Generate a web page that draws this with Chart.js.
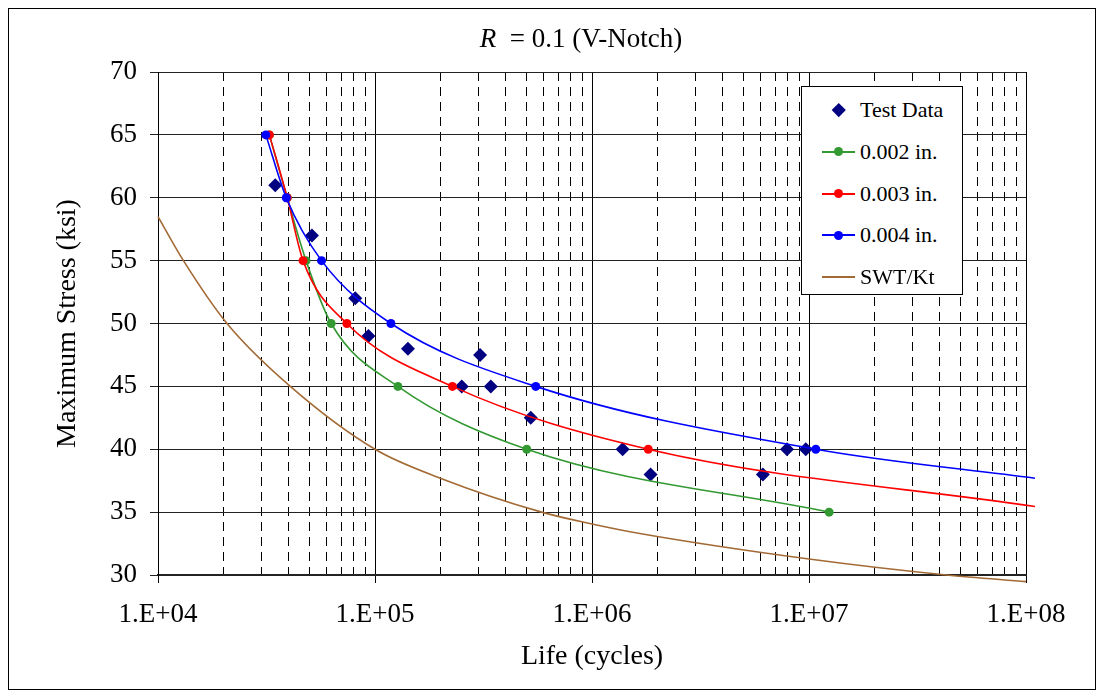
<!DOCTYPE html>
<html>
<head>
<meta charset="utf-8">
<script src="https://cdn.jsdelivr.net/npm/chart.js@4/dist/chart.umd.min.js"></script>
<style>
  body { margin: 0; background: #fff; }
  #wrap { position: relative; width: 1104px; height: 694px; font-family: "Liberation Serif", "Times New Roman", serif; }
  #frame { position: absolute; left: 8px; top: 8px; width: 1086px; height: 680px; border: 1px solid #000; pointer-events: none; }
  #chart { position: absolute; left: 0; top: 0; }
  #title { position: absolute; left: 381px; top: 21px; width: 400px; text-align: center; font-size: 27px; line-height: 34px; color: #000; }
  #legend { position: absolute; left: 801px; top: 86px; width: 162px; height: 209px; border: 1px solid #000; background: #fff; box-sizing: border-box; padding-top: 2px; }
  .row { position: relative; height: 41.8px; }
  .txt { position: absolute; left: 58px; top: 0; line-height: 41.8px; font-size: 22px; color: #000; white-space: nowrap; }
  .ln { position: absolute; left: 20px; top: 20px; width: 33px; height: 2px; }
  .dot { position: absolute; left: 32px; top: 16.5px; width: 9px; height: 9px; border-radius: 50%; }
  .dia { position: absolute; left: 32px; top: 16px; width: 9.5px; height: 9.5px; transform: rotate(45deg); }
</style>
</head>
<body>
<div id="wrap">
  <canvas id="chart" width="1104" height="694"></canvas>
  <div id="title"><i>R</i> &nbsp;= 0.1 (V-Notch)</div>
  <div id="legend"></div>
  <div id="frame"></div>
</div>
<script>
// test points (life in cycles, max stress in ksi)
const testLife   = [34700, 51200, 81100, 93300, 141800, 251000, 305000, 341700, 522000, 1384000, 1862000, 6130000, 7920000, 9660000];
const testStress = [61, 57, 52, 49, 48, 45, 47.5, 45, 42.5, 40, 38, 38, 40, 40];

// predicted curves, one per notch-root size
const life002   = [32600, 39400, 48100, 62800, 127500, 500500, 12380000];
const stress002 = [65, 60, 55, 50, 45, 40, 35];
const life003   = [32600, 39400, 46600, 74200, 227400, 1816000, 110000000];
const stress003 = [65, 60, 55, 50, 45, 40, 35.45];
const life004   = [31400, 39000, 56700, 118400, 550800, 10750000, 110000000];
const stress004 = [65, 60, 55, 50, 45, 40, 37.7];

// SWT/Kt curve
const lifeSwt   = [1e4, 13100, 20800, 40700, 1e5, 2e5, 586000, 1e6, 1660000, 1e7, 43000000, 1e8];
const stressSwt = [58.5, 55, 50, 45, 40, 37.7, 35, 34.06, 33.3, 31.27, 30, 29.47];

// axis ticks
const decades = [4, 5, 6, 7, 8];
const xTickLabels = ['1.E+04', '1.E+05', '1.E+06', '1.E+07', '1.E+08'];
const minorSteps = [2, 3, 4, 5, 6, 7, 8, 9];

const serif = '"Liberation Serif", "Times New Roman", serif';

function pts(xs, ys) {
  return xs.map((x, i) => ({ x: x, y: ys[i] }));
}

// the last point of the 0.003 / 0.004 curves is only the end of the line, no marker
function markers(n, r) {
  return Array.from({ length: n }, (_, i) => (i < n - 1 ? r : 0));
}

const datasets = [
  {
    label: 'Test Data',
    data: pts(testLife, testStress),
    showLine: false,
    pointStyle: 'rectRot',
    pointRadius: 7,
    pointBackgroundColor: '#000080',
    pointBorderColor: '#000080',
    pointBorderWidth: 0,
    order: 5,
    legendType: 'diamond',
  },
  {
    label: '0.002 in.',
    data: pts(life002, stress002),
    borderColor: '#339933',
    backgroundColor: '#339933',
    borderWidth: 1.6,
    pointRadius: 4.5,
    pointBorderWidth: 0,
    cubicInterpolationMode: 'monotone',
    order: 3,
    legendType: 'linedot',
  },
  {
    label: '0.003 in.',
    data: pts(life003, stress003),
    borderColor: '#ff0000',
    backgroundColor: '#ff0000',
    borderWidth: 1.6,
    pointRadius: markers(life003.length, 4.5),
    pointBorderWidth: 0,
    cubicInterpolationMode: 'monotone',
    clip: false,
    order: 2,
    legendType: 'linedot',
  },
  {
    label: '0.004 in.',
    data: pts(life004, stress004),
    borderColor: '#0000ff',
    backgroundColor: '#0000ff',
    borderWidth: 1.6,
    pointRadius: markers(life004.length, 4.5),
    pointBorderWidth: 0,
    cubicInterpolationMode: 'monotone',
    clip: false,
    order: 1,
    legendType: 'linedot',
  },
  {
    label: 'SWT/Kt',
    data: pts(lifeSwt, stressSwt),
    borderColor: '#a36a35',
    borderWidth: 1.6,
    pointRadius: 0,
    cubicInterpolationMode: 'monotone',
    clip: false,
    order: 4,
    legendType: 'line',
  },
];

const xTicks = [];
decades.forEach((d, i) => {
  xTicks.push({ value: Math.pow(10, d), major: true, label: xTickLabels[i] });
  if (i < decades.length - 1) {
    minorSteps.forEach(m => xTicks.push({ value: m * Math.pow(10, d), major: false, label: '' }));
  }
});
xTicks.sort((a, b) => a.value - b.value);

const chart = new Chart(document.getElementById('chart'), {
  type: 'line',
  data: { datasets: datasets },
  options: {
    responsive: false,
    animation: false,
    layout: { padding: { left: 0, right: 78, top: 72, bottom: 0 } },
    plugins: {
      legend: { display: false },
      title: { display: false },
      tooltip: { enabled: false },
    },
    scales: {
      x: {
        type: 'logarithmic',
        min: 1e4,
        max: 1e8,
        afterBuildTicks: (scale) => {
          scale.ticks = xTicks.map(t => ({ value: t.value, major: t.major }));
        },
        afterFit: (scale) => { scale.height = 119; },
        ticks: {
          autoSkip: false,
          maxRotation: 0,
          padding: 16,
          color: '#000',
          font: { family: serif, size: 27 },
          callback: (value) => {
            const t = xTicks.find(k => k.value === value);
            return t ? t.label : '';
          },
        },
        grid: {
          color: '#000',
          lineWidth: 1,
          tickLength: 8,
          tickColor: (ctx) => (ctx.tick && ctx.tick.major ? '#000' : 'rgba(0,0,0,0)'),
        },
        border: {
          color: '#222',
          width: 2,
          dash: (ctx) => (ctx.tick && !ctx.tick.major ? [9, 6] : []),
        },
        title: {
          display: true,
          text: 'Life (cycles)',
          color: '#000',
          font: { family: serif, size: 28 },
          padding: { top: 0, bottom: 21 },
        },
      },
      y: {
        min: 30,
        max: 70,
        afterFit: (scale) => { scale.width = 158; },
        ticks: {
          stepSize: 5,
          padding: 13,
          color: '#000',
          font: { family: serif, size: 27 },
        },
        grid: { color: '#222', lineWidth: 1, tickLength: 8 },
        border: { color: '#000', width: 1 },
        title: {
          display: true,
          text: 'Maximum Stress (ksi)',
          color: '#000',
          font: { family: serif, size: 28 },
          padding: { top: 51, bottom: 0 },
        },
      },
    },
  },
});

// legend box, built from the datasets
const legend = document.getElementById('legend');
datasets.forEach(ds => {
  const row = document.createElement('div');
  row.className = 'row';
  const col = ds.borderColor || ds.pointBackgroundColor;
  if (ds.legendType === 'diamond') {
    const d = document.createElement('div');
    d.className = 'dia';
    d.style.background = ds.pointBackgroundColor;
    row.appendChild(d);
  } else {
    const l = document.createElement('div');
    l.className = 'ln';
    l.style.background = col;
    row.appendChild(l);
    if (ds.legendType === 'linedot') {
      const p = document.createElement('div');
      p.className = 'dot';
      p.style.background = col;
      row.appendChild(p);
    }
  }
  const t = document.createElement('div');
  t.className = 'txt';
  t.textContent = ds.label;
  row.appendChild(t);
  legend.appendChild(row);
});
</script>
</body>
</html>
